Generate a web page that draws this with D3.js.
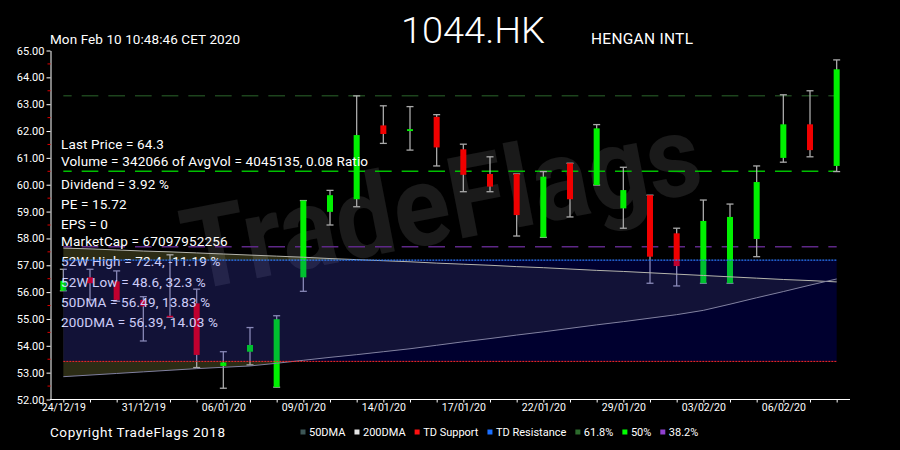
<!DOCTYPE html>
<html>
<head>
<meta charset="utf-8">
<script src="https://cdn.jsdelivr.net/npm/d3@7"></script>
<style>
  html, body { margin: 0; padding: 0; background: #000; }
  svg { display: block; font-family: Roboto, "Open Sans", sans-serif; }
</style>
</head>
<body>
<svg id="chart" width="900" height="450"></svg>
<script>
// ---------- data ----------
const dates = ["24/12/19","27/12/19","30/12/19","31/12/19","02/01/20","03/01/20","06/01/20","07/01/20","08/01/20","09/01/20",
  "10/01/20","13/01/20","14/01/20","15/01/20","16/01/20","17/01/20","20/01/20","21/01/20","22/01/20","23/01/20",
  "24/01/20","29/01/20","30/01/20","31/01/20","03/02/20","04/02/20","05/02/20","06/02/20","07/02/20","10/02/20"];
const openP  = [56.05,56.55,56.40,55.71,55.12,55.58,53.25,53.78,52.46,56.55,58.99,59.46,62.21,62.00,62.53,61.32,60.40,60.40,58.04,60.80,59.99,59.12,59.61,58.19,56.33,56.33,57.98,61.00,62.25,60.70];
const highP  = [56.85,56.85,56.79,55.83,57.39,56.11,53.78,54.68,55.12,59.41,59.79,63.31,62.94,62.91,62.61,61.51,61.04,60.40,60.49,60.80,62.24,60.65,59.61,58.38,59.43,59.28,60.70,63.35,63.50,64.65];
const lowP   = [56.05,55.71,55.66,54.18,55.06,53.19,52.42,53.29,52.46,56.03,58.50,59.18,61.54,61.29,60.70,59.74,59.74,58.09,58.04,58.80,59.99,58.38,56.33,56.23,56.33,56.33,57.32,60.84,61.04,60.49];
const closeP = [56.42,56.33,55.71,55.47,55.06,53.66,53.38,54.03,54.99,59.41,59.61,61.85,61.89,62.07,61.39,60.37,59.93,58.87,60.30,59.46,62.10,59.80,57.32,56.97,58.65,58.80,60.10,62.25,61.29,64.30];
const dma50  = [52.85,52.91,52.97,53.03,53.09,53.15,53.20,53.25,53.35,53.46,53.57,53.67,53.78,53.89,54.02,54.15,54.27,54.40,54.52,54.65,54.78,54.90,55.03,55.16,55.32,55.55,55.79,56.02,56.26,56.49];
const dma200 = [57.64,57.61,57.57,57.53,57.50,57.46,57.42,57.38,57.34,57.30,57.25,57.21,57.17,57.13,57.08,57.04,57.00,56.95,56.91,56.86,56.81,56.77,56.72,56.67,56.62,56.57,56.52,56.47,56.43,56.38];
const tdSupport = 53.42;
const tdResistance = 57.19;
const fibLevels = [63.31, 60.50, 57.69];          // 61.8%, 50%, 38.2%
const fibNames  = ["61.8%", "50%", "38.2%"];
const yTicks = [52,53,54,55,56,57,58,59,60,61,62,63,64,65];
const yMinorTicks = [52.5,53.5,54.5,55.5,56.5,57.5,58.5,59.5,60.5,61.5,62.5,63.5,64.5];
const infoLines = ["Last Price = 64.3","Volume = 342066 of AvgVol = 4045135, 0.08 Ratio","Dividend = 3.92 %","PE = 15.72","EPS = 0",
  "MarketCap = 67097952256","52W High = 72.4, -11.19 %","52W Low = 48.6, 32.3 %","50DMA = 56.49, 13.83 %","200DMA = 56.39, 14.03 %"];
const legendNames = ["50DMA","200DMA","TD Support","TD Resistance","61.8%","50%","38.2%"];
const legendColors = ["#3d5656","#e4e4e4","#ff1010","#1a6fff","#2d6b2d","#00ff00","#9040d0"];

// ---------- layout ----------
const svg = d3.select("#chart");
const idx = d3.range(dates.length);
const x = d3.scalePoint().domain(idx).range([50, 850]).padding(0.5);
const y = d3.scaleLinear().domain([52, 65]).range([399.5, 50.5]);
const step = x.step();
const x0 = x(0), x1 = x(idx.length - 1);

svg.append("defs").append("clipPath").attr("id", "bandClip")
  .append("rect")
  .attr("x", x0).attr("width", x1 - x0)
  .attr("y", y(tdResistance)).attr("height", y(tdSupport) - y(tdResistance));

// DMA area (under everything)
const dmaArea = d3.area().x(i => x(i)).y0(i => y(dma50[i])).y1(i => y(dma200[i]));
svg.append("path").datum(idx).attr("fill", "#2c2c15").attr("d", dmaArea);
svg.append("path").datum(idx).attr("fill", "#17170a").attr("clip-path", "url(#bandClip)").attr("d", dmaArea);

// watermark
svg.append("text")
  .attr("transform", "translate(191,291) rotate(-11)")
  .attr("font-size", 114)
  .attr("font-weight", "bold")
  .attr("textLength", 525)
  .attr("lengthAdjust", "spacingAndGlyphs")
  .attr("fill", "rgba(255,255,255,0.10)")
  .text("TradeFlags");

// Fibonacci dashed lines
const fibColors = ["#1d441d", "#00c000", "#5e2888"];
svg.selectAll("line.fib").data(fibLevels).join("line")
  .attr("class", "fib")
  .attr("x1", x0).attr("x2", x1)
  .attr("y1", d => y(d)).attr("y2", d => y(d))
  .attr("stroke", (d, i) => fibColors[i])
  .attr("stroke-width", 1.5)
  .attr("stroke-dasharray", `${step * 0.625} ${step * 0.375}`)
  .attr("stroke-dashoffset", step * 0.3125);

// candles
const cg = svg.append("g");
const wickColor = "#aaaaaa";
idx.forEach(i => {
  const cx = x(i);
  cg.append("line").attr("x1", cx).attr("x2", cx).attr("y1", y(highP[i])).attr("y2", y(lowP[i]))
    .attr("stroke", wickColor).attr("stroke-width", 1.3);
  cg.append("line").attr("x1", cx - 3.5).attr("x2", cx + 3.5).attr("y1", y(highP[i])).attr("y2", y(highP[i]))
    .attr("stroke", wickColor).attr("stroke-width", 1.3);
  cg.append("line").attr("x1", cx - 3.5).attr("x2", cx + 3.5).attr("y1", y(lowP[i])).attr("y2", y(lowP[i]))
    .attr("stroke", wickColor).attr("stroke-width", 1.3);
  const up = closeP[i] >= openP[i];
  const top = y(Math.max(openP[i], closeP[i]));
  const h = Math.max(1.6, Math.abs(y(openP[i]) - y(closeP[i])));
  cg.append("rect").attr("x", cx - 3).attr("width", 6).attr("y", top).attr("height", h)
    .attr("fill", up ? "#00f000" : "#f00000");
});

// info text
const infoY = [149, 166, 189, 209, 228.5, 246, 266, 286.5, 306.5, 326.5];
svg.selectAll("text.info").data(infoLines).join("text")
  .attr("class", "info")
  .attr("x", 61).attr("y", (d, i) => infoY[i])
  .attr("fill", "#ffffff").attr("font-size", 13.5).attr("letter-spacing", 0.15)
  .text(d => d);

// TD band overlay
svg.append("rect")
  .attr("x", x0).attr("width", x1 - x0)
  .attr("y", y(tdResistance)).attr("height", y(tdSupport) - y(tdResistance))
  .attr("fill", "rgba(0,0,235,0.2)");

// DMA lines
svg.append("path").datum(idx).attr("fill", "none").attr("stroke", "#b4b4ac").attr("stroke-width", 1)
  .attr("d", d3.line().x(i => x(i)).y(i => y(dma200[i])));
svg.append("path").datum(idx).attr("fill", "none").attr("stroke", "#8080a0").attr("stroke-width", 1)
  .attr("d", d3.line().x(i => x(i)).y(i => y(dma50[i])));

// TD lines
svg.append("line").attr("x1", x0).attr("x2", x1).attr("y1", y(tdResistance)).attr("y2", y(tdResistance))
  .attr("stroke", "#2a78ff").attr("stroke-width", 1.2).attr("stroke-dasharray", "2 1");
svg.append("line").attr("x1", x0).attr("x2", x1).attr("y1", y(tdSupport)).attr("y2", y(tdSupport))
  .attr("stroke", "#ff2a2a").attr("stroke-width", 1).attr("stroke-dasharray", "2 1");

// axes
const yAxis = svg.append("g").attr("transform", "translate(50.5,0)")
  .call(d3.axisLeft(y).tickValues(yTicks).tickFormat(d3.format(".2f")).tickSize(4).tickSizeOuter(0));
yAxis.selectAll("path,line").attr("stroke", "#ffffff");
yAxis.selectAll("text").attr("fill", "#ffffff").attr("font-size", 11).attr("font-family", "Roboto, sans-serif").attr("x", -6);
svg.append("g").selectAll("line").data(yMinorTicks).join("line")
  .attr("x1", 47.5).attr("x2", 50.5).attr("y1", d => y(d)).attr("y2", d => y(d))
  .attr("stroke", "#e00000").attr("stroke-width", 1);

const xAxis = svg.append("g").attr("transform", "translate(0,399.5)")
  .call(d3.axisBottom(x).tickValues(idx).tickFormat(i => i % 3 === 0 ? dates[i] : "").tickSize(3).tickSizeOuter(0));
xAxis.select("path").attr("d", "M50,0H850");
xAxis.selectAll("path,line").attr("stroke", "#ffffff");
xAxis.selectAll("text").attr("fill", "#ffffff").attr("font-size", 10.5).attr("font-family", "Roboto, sans-serif").attr("dy", "0.55em");

// titles
svg.append("text").attr("x", 50).attr("y", 44).attr("fill", "#fff").attr("font-size", 13.5)
  .attr("textLength", 190).attr("lengthAdjust", "spacing")
  .text("Mon Feb 10 10:48:46 CET 2020");
svg.append("text").attr("x", 401).attr("y", 43).attr("fill", "#fff").attr("font-size", 36).attr("font-weight", 300)
  .attr("textLength", 144).attr("lengthAdjust", "spacingAndGlyphs")
  .text("1044.HK");
svg.append("text").attr("x", 591).attr("y", 44).attr("fill", "#fff").attr("font-size", 15.5)
  .attr("textLength", 102).attr("lengthAdjust", "spacing")
  .text("HENGAN INTL");
svg.append("text").attr("x", 50).attr("y", 437).attr("fill", "#fff").attr("font-size", 13.5)
  .attr("textLength", 175).attr("lengthAdjust", "spacing")
  .text("Copyright TradeFlags 2018");

// legend
const lg = svg.append("g");
let lx = 300.5;
legendNames.forEach((name, i) => {
  lg.append("rect").attr("x", lx).attr("y", 429.5).attr("width", 5).attr("height", 5).attr("fill", legendColors[i]);
  const t = lg.append("text").attr("x", lx + 8.5).attr("y", 436).attr("fill", "#fff").attr("font-size", 11).text(name);
  lx += 8.5 + t.node().getComputedTextLength() + 9;
});
</script>
</body>
</html>
